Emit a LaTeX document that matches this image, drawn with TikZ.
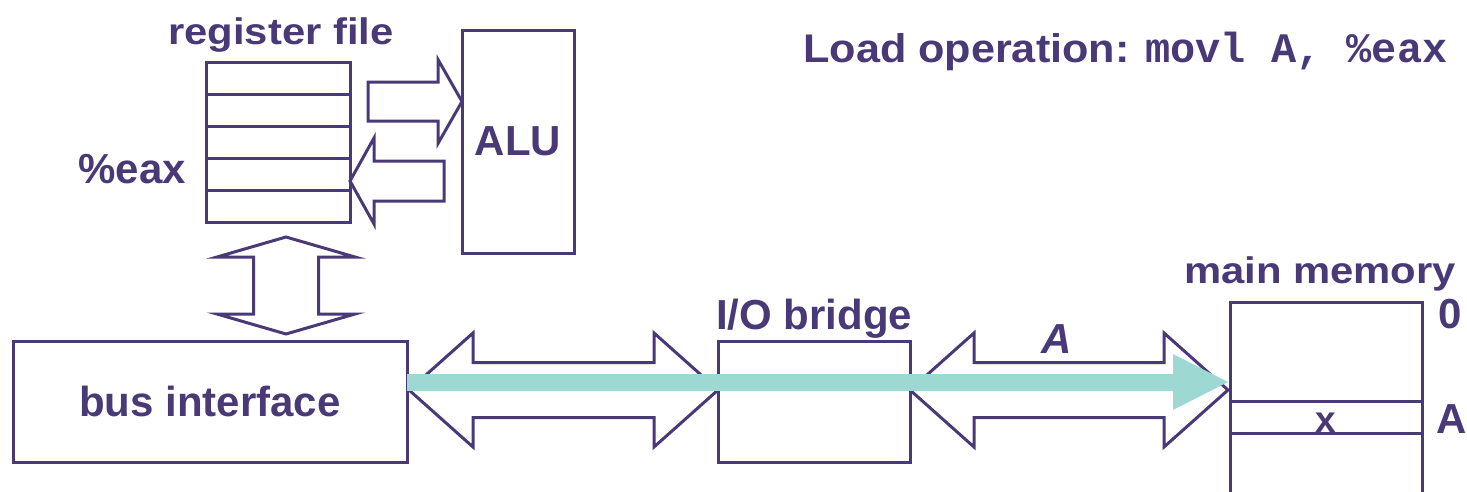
\documentclass[tikz,border=0pt]{standalone}
\usepackage{fontspec}
\setmainfont{Liberation Sans}
\newfontfamily\widesans{Liberation Sans}[FakeStretch=1.13]
\newfontfamily\loadsans{Liberation Sans}[FakeStretch=1.08]
\newfontfamily\codefont{Liberation Mono}
\usetikzlibrary{calc,positioning,arrows.meta}
\definecolor{ink}{RGB}{73,57,118}
\definecolor{flow}{RGB}{157,216,210}
\tikzset{
  box/.style={draw=ink, line width=3pt, inner sep=0pt, outer sep=0pt},
  lbl/.style={text=ink, font=\bfseries\fontsize{42}{48}\selectfont, inner sep=0pt, anchor=base},
  widelbl/.style={lbl, font=\widesans\bfseries\fontsize{37}{42}\selectfont},
  blockarrow/.style={draw=ink, fill=white, line width=3pt, line join=miter},
  dataflow/.style={draw=flow, line width=17pt, -{Triangle[length=55pt,width=56pt,line width=0pt]}},
}
% two-headed block arrow between two tips
\newcommand{\busarrow}[2]{%
  \draw[blockarrow] (#1) -- ++(64,-57) -- ++(0,29.5) -- ($(#2)+(-64,-27.5)$)
    -- ++(0,-29.5) -- (#2) -- ++(-64,57) -- ++(0,-29.5) -- ($(#1)+(64,27.5)$)
    -- ++(0,29.5) -- cycle;}
\begin{document}
\begin{tikzpicture}[x=1pt, y=-1pt]
  \useasboundingbox (0,0) rectangle (1467,491);

  % register file
  \node[box, minimum width=144pt, minimum height=32pt] (reg0) at (278,78) {};
  \foreach \k in {1,...,4} {
    \pgfmathtruncatemacro\prev{\k-1}
    \node[box, minimum width=144pt, minimum height=32pt, below=0pt of reg\prev] (reg\k) {};
  }
  \node[widelbl] (regtitle) at (281,44) {register file};
  \node[lbl, anchor=base east] (eax) at (186,183) {\%eax};

  % ALU
  \node[box, minimum width=112pt, minimum height=223pt, text=ink,
    font=\bfseries\fontsize{42}{48}\selectfont] (alu) at (518,141.5) {ALU};

  % bus interface and I/O bridge
  \node[box, minimum width=394pt, minimum height=121pt, text=ink,
    font=\bfseries\fontsize{42}{48}\selectfont] (bus) at (210,401.5) {bus interface};
  \node[box, minimum width=192pt, minimum height=121pt] (bridge) at (814,401.5) {};
  \node[lbl] (bridgetitle) at (814,329) {I/O bridge};

  % main memory
  \node[box, minimum width=192pt, minimum height=240pt, anchor=north] (mem) at (1326,302) {};
  \node[box, minimum width=192pt, minimum height=32pt] (cell) at (1326,417) {};
  \node[lbl, font=\bfseries\fontsize{37}{42}\selectfont] (cellval) at (1326,432) {x};
  \node[widelbl] (memtitle) at (1320,283) {main memory};
  \node[lbl] (zero) at (1450,328) {0};
  \node[lbl] (addr) at (1452,433) {A};

  % operation
  \node[lbl, anchor=base west] (op) at (803,62)
    {{\loadsans\fontsize{40}{46}\selectfont Load operation:} {\codefont movl A, \%eax}};

  % register file <-> ALU
  \draw[blockarrow] ($(alu.north west)+(0,71.5)$) -- ++(-24,-42) -- ++(0,22.5)
    -- ++(-70,0) -- ++(0,39) -- ++(70,0) -- ++(0,22.5) -- cycle;
  \draw[blockarrow] ($(reg0.north east)+(0,119)$) -- ++(24,-43) -- ++(0,23)
    -- ++(70,0) -- ++(0,40) -- ++(-70,0) -- ++(0,23) -- cycle;

  % register file <-> bus interface
  \coordinate (regtip) at ($(reg4.south)+(8,15)$);
  \coordinate (bustip) at ($(bus.north)+(76,-7)$);
  \draw[blockarrow] (regtip) -- ++(69,20) -- ++(-36.5,0) -- ++(0,57) -- ++(36.5,0)
    -- (bustip) -- ++(-69,-20) -- ++(36.5,0) -- ++(0,-57) -- ++(-36.5,0) -- cycle;

  % system bus and memory bus
  \coordinate (busR) at ($(bus.east)+(2,-11.5)$);
  \coordinate (bridgeL) at ($(bridge.west)+(0,-11.5)$);
  \coordinate (bridgeR) at ($(bridge.east)+(0,-11.5)$);
  \coordinate (memL) at ($(mem.north west)+(-2,88)$);
  \busarrow{busR}{bridgeL}
  \busarrow{bridgeR}{memL}
  \node[lbl, font=\bfseries\itshape\fontsize{42}{48}\selectfont] (addrbus) at (1057,353) {A};

  % data flow of the load
  \coordinate (flowstart) at ($(bus.east)+(0,-19.5)$);
  \coordinate (flowend) at ($(mem.north west)+(-2,80)$);
  \draw[dataflow] (flowstart) -- (flowend);
\end{tikzpicture}
\end{document}
